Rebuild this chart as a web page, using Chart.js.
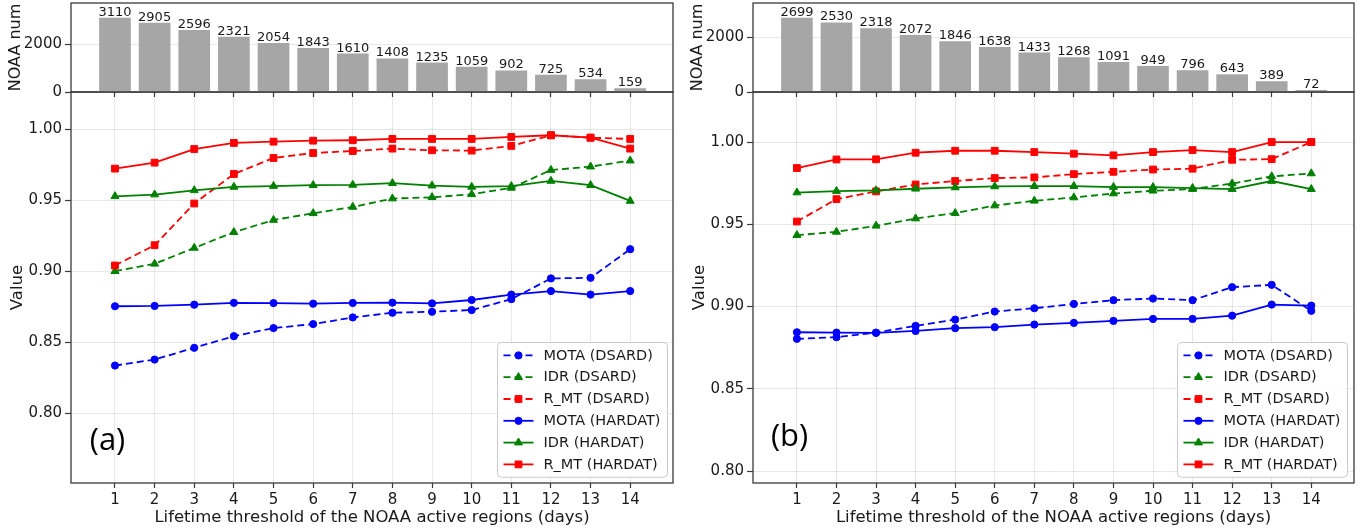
<!DOCTYPE html>
<html>
<head>
<meta charset="utf-8">
<script src="https://cdn.jsdelivr.net/npm/chart.js@4.4.1/dist/chart.umd.min.js"></script>
<style>
  html, body { margin: 0; padding: 0; background: #fff; }
  #fig { position: relative; width: 1372px; height: 531px; overflow: hidden; }
  #fig canvas { position: absolute; }
</style>
</head>
<body>
<div id="fig">
  <canvas id="valueA" width="680" height="451" style="left:0;top:80px"></canvas>
  <canvas id="countA" width="680" height="104" style="left:0;top:0"></canvas>
  <canvas id="valueB" width="690" height="451" style="left:682px;top:80px"></canvas>
  <canvas id="countB" width="690" height="104" style="left:682px;top:0"></canvas>
</div>
<script>
  // lifetime thresholds (days) shared by both panels
  const days = [1, 2, 3, 4, 5, 6, 7, 8, 9, 10, 11, 12, 13, 14];

  // NOAA active region counts per threshold
  const noaaCountA = [3110, 2905, 2596, 2321, 2054, 1843, 1610, 1408, 1235, 1059, 902, 725, 534, 159];
  const noaaCountB = [2699, 2530, 2318, 2072, 1846, 1638, 1433, 1268, 1091, 949, 796, 643, 389, 72];

  // panel (a) metrics
  const motaDsardA = [0.8335, 0.8377, 0.8460, 0.8542, 0.8599, 0.8627, 0.8674, 0.8707, 0.8714, 0.8726, 0.8803, 0.8949, 0.8953, 0.9155];
  const idrDsardA = [0.9000, 0.9052, 0.9164, 0.9275, 0.9361, 0.9408, 0.9453, 0.9512, 0.9521, 0.9542, 0.9587, 0.9713, 0.9737, 0.9779];
  const rmtDsardA = [0.9040, 0.9183, 0.9477, 0.9685, 0.9798, 0.9833, 0.9847, 0.9864, 0.9852, 0.9850, 0.9883, 0.9958, 0.9941, 0.9932];
  const motaHardatA = [0.8753, 0.8755, 0.8764, 0.8777, 0.8775, 0.8771, 0.8776, 0.8778, 0.8773, 0.8797, 0.8835, 0.8860, 0.8835, 0.8860];
  const idrHardatA = [0.9528, 0.9540, 0.9570, 0.9594, 0.9600, 0.9606, 0.9608, 0.9620, 0.9603, 0.9594, 0.9599, 0.9636, 0.9606, 0.9495];
  const rmtHardatA = [0.9723, 0.9765, 0.9861, 0.9904, 0.9913, 0.9920, 0.9923, 0.9932, 0.9932, 0.9932, 0.9946, 0.9958, 0.9941, 0.9864];

  // panel (b) metrics
  const motaDsardB = [0.8804, 0.8814, 0.8842, 0.8883, 0.8921, 0.8970, 0.8990, 0.9016, 0.9039, 0.9049, 0.9039, 0.9118, 0.9132, 0.8974];
  const idrDsardB = [0.9434, 0.9454, 0.9491, 0.9535, 0.9568, 0.9614, 0.9643, 0.9663, 0.9687, 0.9704, 0.9714, 0.9748, 0.9791, 0.9809];
  const rmtDsardB = [0.9517, 0.9653, 0.9700, 0.9742, 0.9763, 0.9781, 0.9785, 0.9805, 0.9819, 0.9833, 0.9838, 0.9892, 0.9896, 1.0000];
  const motaHardatB = [0.8844, 0.8842, 0.8840, 0.8852, 0.8869, 0.8875, 0.8891, 0.8901, 0.8913, 0.8925, 0.8925, 0.8945, 0.9012, 0.9006];
  const idrHardatB = [0.9693, 0.9702, 0.9706, 0.9716, 0.9724, 0.9730, 0.9732, 0.9732, 0.9726, 0.9726, 0.9720, 0.9714, 0.9763, 0.9714];
  const rmtHardatB = [0.9842, 0.9894, 0.9895, 0.9935, 0.9947, 0.9947, 0.9939, 0.9929, 0.9919, 0.9939, 0.9951, 0.9939, 1.0000, 1.0000];

  const seriesLabels = ["MOTA (DSARD)", "IDR (DSARD)", "R_MT (DSARD)", "MOTA (HARDAT)", "IDR (HARDAT)", "R_MT (HARDAT)"];
  const countTicks = [0, 2000];
  const valueTicks = [0.80, 0.85, 0.90, 0.95, 1.00];

  // styling
  const FONT = "'DejaVu Sans', sans-serif";
  const TEXT = "#1a1a1a";
  const SPINE = "#3a3a3a";
  const GRID = "rgba(0, 0, 0, 0.09)";
  const BAR_COLOR = "#a6a6a6";
  const X_MIN = -0.11, X_MAX = 15.08;
  const seriesStyles = [
    { color: "#0000ff", dashed: true, marker: "circle", radius: 3.6 },
    { color: "#008000", dashed: true, marker: "triangle", radius: 4.6 },
    { color: "#ff0000", dashed: true, marker: "rect", radius: 4.8 },
    { color: "#0000ff", dashed: false, marker: "circle", radius: 3.6 },
    { color: "#008000", dashed: false, marker: "triangle", radius: 4.6 },
    { color: "#ff0000", dashed: false, marker: "rect", radius: 4.8 },
  ];

  Chart.defaults.font.family = FONT;
  Chart.defaults.color = TEXT;

  function drawMarker(ctx, style, r, x, y) {
    ctx.beginPath();
    if (style === "circle") {
      ctx.arc(x, y, r, 0, Math.PI * 2);
    } else if (style === "triangle") {
      ctx.moveTo(x, y - r);
      ctx.lineTo(x + r * 0.866, y + r * 0.5);
      ctx.lineTo(x - r * 0.866, y + r * 0.5);
      ctx.closePath();
    } else {
      const s = r / Math.SQRT2;
      ctx.rect(x - s, y - s, 2 * s, 2 * s);
    }
    ctx.fill();
    ctx.stroke();
  }

  // full box around the plot area (matplotlib style spines)
  const frameBox = {
    id: "frameBox",
    afterDraw(chart) {
      const { ctx, chartArea: a } = chart;
      ctx.save();
      ctx.strokeStyle = SPINE;
      ctx.lineWidth = 1.3;
      ctx.strokeRect(a.left, a.top, a.right - a.left, a.bottom - a.top);
      ctx.restore();
    },
  };

  const barValueLabels = {
    id: "barValueLabels",
    afterDatasetsDraw(chart) {
      const { ctx } = chart;
      const meta = chart.getDatasetMeta(0);
      const pts = chart.data.datasets[0].data;
      ctx.save();
      ctx.font = "13px " + FONT;
      ctx.fillStyle = TEXT;
      ctx.textAlign = "center";
      ctx.textBaseline = "alphabetic";
      meta.data.forEach((bar, i) => ctx.fillText(String(pts[i].y), bar.x, bar.y - 2));
      ctx.restore();
    },
  };

  const inlineLegend = {
    id: "inlineLegend",
    afterDraw(chart, args, opts) {
      const { ctx, chartArea: a } = chart;
      const sets = chart.data.datasets;
      const w = 170, rowH = 21.8, padY = 2;
      const h = rowH * sets.length + padY * 2;
      const x0 = Math.round(a.right - opts.right - w) + 0.5;
      const y0 = Math.round(a.bottom - opts.bottom - h) + 0.5;
      ctx.save();
      ctx.fillStyle = "rgba(255,255,255,0.85)";
      ctx.strokeStyle = "#cccccc";
      ctx.lineWidth = 1;
      ctx.beginPath();
      ctx.roundRect(x0, y0, w, h, 4);
      ctx.fill();
      ctx.stroke();
      ctx.font = "14.5px " + FONT;
      ctx.textBaseline = "middle";
      sets.forEach((ds, i) => {
        const cy = y0 + padY + rowH * (i + 0.5);
        const lx = x0 + 6;
        ctx.strokeStyle = ds.borderColor;
        ctx.fillStyle = ds.borderColor;
        ctx.lineWidth = ds.borderWidth;
        ctx.setLineDash(ds.borderDash);
        ctx.beginPath();
        ctx.moveTo(lx, cy);
        ctx.lineTo(lx + 30, cy);
        ctx.stroke();
        ctx.setLineDash([]);
        ctx.lineWidth = 1;
        drawMarker(ctx, ds.pointStyle, ds.pointRadius, lx + 15, cy);
        ctx.fillStyle = TEXT;
        ctx.fillText(ds.label, x0 + 46, cy + 0.5);
      });
      ctx.restore();
    },
  };

  const panelTag = {
    id: "panelTag",
    afterDraw(chart, args, opts) {
      const { ctx, chartArea: a } = chart;
      ctx.save();
      ctx.font = "31px 'Open Sans', sans-serif";
      ctx.fillStyle = "#000";
      ctx.textAlign = "center";
      ctx.textBaseline = "middle";
      ctx.fillText(opts.text, a.left + opts.dx, a.bottom - opts.dy);
      ctx.restore();
    },
  };

  function fixTicks(values) {
    return (scale) => { scale.ticks = values.map((v) => ({ value: v })); };
  }

  function renderCountChart(id, counts, yMax, padRight) {
    return new Chart(document.getElementById(id), {
      type: "bar",
      data: {
        datasets: [{
          data: days.map((d, i) => ({ x: d, y: counts[i] })),
          backgroundColor: BAR_COLOR,
          borderWidth: 0,
          categoryPercentage: 1,
          barPercentage: 0.8,
        }],
      },
      options: {
        responsive: false,
        animation: false,
        devicePixelRatio: 1,
        layout: { padding: { top: 3, right: padRight, left: 0, bottom: 0 } },
        plugins: { legend: { display: false }, tooltip: { enabled: false } },
        scales: {
          x: {
            type: "linear",
            min: X_MIN,
            max: X_MAX,
            offset: false,
            afterBuildTicks: fixTicks(days),
            ticks: { display: false },
            grid: { offset: false, drawOnChartArea: false, drawTicks: true, tickLength: 5, tickColor: SPINE, tickWidth: 1.2 },
            border: { display: false },
            afterFit: (s) => { s.height = 12; s.paddingLeft = 0; s.paddingRight = 0; },
          },
          y: {
            min: 0,
            max: yMax,
            afterBuildTicks: fixTicks(countTicks),
            ticks: { font: { size: 15 }, color: TEXT, padding: 3, callback: (v) => String(v) },
            grid: { color: GRID, tickColor: SPINE, tickLength: 6, tickWidth: 1.2 },
            border: { display: false },
            title: { display: true, text: "NOAA num", font: { size: 16 }, color: TEXT, padding: { top: 6, bottom: 0 } },
            afterFit: (s) => { s.width = 71; s.paddingTop = 0; s.paddingBottom = 0; },
          },
        },
      },
      plugins: [barValueLabels, frameBox],
    });
  }

  function renderValueChart(id, values, yMin, yMax, padRight, tag, legendPos) {
    return new Chart(document.getElementById(id), {
      type: "line",
      data: {
        datasets: seriesLabels.map((label, i) => {
          const st = seriesStyles[i];
          return {
            label,
            data: days.map((d, j) => ({ x: d, y: values[i][j] })),
            borderColor: st.color,
            backgroundColor: st.color,
            borderWidth: 1.8,
            borderDash: st.dashed ? [7, 4] : [],
            pointStyle: st.marker,
            pointRadius: st.radius,
            pointBorderWidth: 1,
            pointBackgroundColor: st.color,
            pointBorderColor: st.color,
            fill: false,
            tension: 0,
            order: seriesLabels.length - i,
          };
        }),
      },
      options: {
        responsive: false,
        animation: false,
        devicePixelRatio: 1,
        layout: { padding: { top: 12, right: padRight, left: 0, bottom: 0 } },
        plugins: {
          legend: { display: false },
          tooltip: { enabled: false },
          inlineLegend: legendPos,
          panelTag: tag,
        },
        scales: {
          x: {
            type: "linear",
            min: X_MIN,
            max: X_MAX,
            afterBuildTicks: fixTicks(days),
            ticks: { font: { size: 15 }, color: TEXT, padding: 3, autoSkip: false, maxRotation: 0, callback: (v) => String(v) },
            grid: { color: GRID, tickColor: SPINE, tickLength: 5, tickWidth: 1.2 },
            border: { display: false },
            title: {
              display: true,
              text: "Lifetime threshold of the NOAA active regions (days)",
              font: { size: 16.5, lineHeight: 1.2 },
              color: TEXT,
              padding: { top: 0, bottom: 3 },
            },
            afterFit: (s) => { s.height = 48; s.paddingLeft = 0; s.paddingRight = 0; },
          },
          y: {
            min: yMin,
            max: yMax,
            afterBuildTicks: fixTicks(valueTicks),
            ticks: { font: { size: 15 }, color: TEXT, padding: 3, callback: (v) => v.toFixed(2) },
            grid: { color: GRID, tickColor: SPINE, tickLength: 6, tickWidth: 1.2 },
            border: { display: false },
            title: { display: true, text: "Value", font: { size: 16.5, lineHeight: 1.2 }, color: TEXT, padding: { top: 8, bottom: 0 } },
            afterFit: (s) => { s.width = 71; s.paddingTop = 0; s.paddingBottom = 0; },
          },
        },
      },
      plugins: [frameBox, inlineLegend, panelTag],
    });
  }

  renderValueChart("valueA",
    [motaDsardA, idrDsardA, rmtDsardA, motaHardatA, idrHardatA, rmtHardatA],
    0.7507, 1.0263, 7, { text: "(a)", dx: 36.5, dy: 41.5 }, { right: 6, bottom: 6 });
  renderCountChart("countA", noaaCountA, 3732, 7);

  renderValueChart("valueB",
    [motaDsardB, idrDsardB, rmtDsardB, motaHardatB, idrHardatB, rmtHardatB],
    0.7928, 1.0304, 18, { text: "(b)", dx: 36.6, dy: 45.5 }, { right: 7, bottom: 6 });
  renderCountChart("countB", noaaCountB, 3239, 18);
</script>
</body>
</html>
